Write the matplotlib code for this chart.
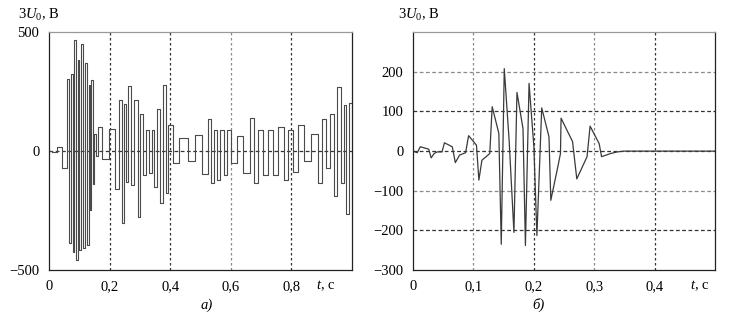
import numpy as np
import matplotlib
matplotlib.use("Agg")
import matplotlib.pyplot as plt

# а) 3U0 during the arcing fault, peaks of each half-wave
t_a = [0.000, 0.020, 0.033, 0.054, 0.065, 0.0695, 0.076, 0.0806, 0.087, 0.0916,
       0.098, 0.102, 0.111, 0.116, 0.1225, 0.127, 0.134, 0.138, 0.142, 0.146,
       0.153, 0.157, 0.166, 0.187, 0.211, 0.224, 0.236, 0.245, 0.251, 0.256,
       0.267, 0.275, 0.288, 0.297, 0.306, 0.314, 0.325, 0.334, 0.343, 0.350,
       0.361, 0.370, 0.383, 0.388, 0.400, 0.416, 0.444, 0.471, 0.493, 0.516,
       0.532, 0.539, 0.551, 0.559, 0.573, 0.582, 0.593, 0.607, 0.631, 0.653,
       0.672, 0.684, 0.698, 0.716, 0.733, 0.747, 0.767, 0.784, 0.797, 0.812,
       0.832, 0.853, 0.880, 0.894, 0.908, 0.919, 0.934, 0.947, 0.956, 0.969,
       0.978, 0.986, 0.997, 1.000]
u_a = [0, -3, 18, -73, 305, -388, 326, -423, 469, -458,
       382, -416, 449, -409, 372, -395, 277, -248, 300, -140,
       74, -20, 102, -35, 95, -161, 217, -304, 200, -129,
       273, -143, 217, -276, 158, -101, 88, -94, 88, -150,
       179, -218, 277, -176, 109, -50, 55, -40, 67, -97,
       137, -136, 88, -122, 88, -101, 88, -50, 63, -92,
       139, -134, 88, -101, 88, -101, 101, -122, 88, -87,
       109, -41, 74, -136, 133, -73, 158, -189, 270, -136,
       193, -265, 204, 204]

# б) 3U0 with the fault cleared
t_b = [0.000, 0.007, 0.012, 0.026, 0.030, 0.035, 0.040, 0.048, 0.052, 0.065,
       0.070, 0.077, 0.087, 0.092, 0.105, 0.109, 0.114, 0.127, 0.131, 0.142,
       0.146, 0.151, 0.159, 0.167, 0.172, 0.182, 0.186, 0.192, 0.200, 0.205,
       0.213, 0.225, 0.228, 0.239, 0.244, 0.245, 0.264, 0.271, 0.288, 0.293,
       0.308, 0.312, 0.327, 0.338, 0.349, 0.500]
u_b = [0, -4, 11, 5, -17, -6, -2, -2, 21, 11,
       -29, -10, -4, 39, 15, -73, -23, -6, 112, 45,
       -235, 208, 28, -205, 148, 57, -238, 171, 11, -213,
       109, 36, -124, -44, -6, 83, 24, -70, -14, 63,
       19, -14, -6, -2, 0, 0]

xticks_a = [0, 0.2, 0.4, 0.6, 0.8]
yticks_a = [-500, 0, 500]
xticks_b = [0, 0.1, 0.2, 0.3, 0.4]
yticks_b = [-300, -200, -100, 0, 100, 200]

plt.rcParams['font.family'] = ['Liberation Serif', 'DejaVu Serif']
plt.rcParams['mathtext.fontset'] = 'custom'
plt.rcParams['mathtext.rm'] = 'Liberation Serif'
plt.rcParams['mathtext.it'] = 'Liberation Serif:italic'
plt.rcParams['font.size'] = 10.5

DARK = '#333333'
LIGHT = '#8a8a8a'


def fmt(v):
    s = ('%g' % v).replace('.', ',')
    return s.replace('-', '\u2212')


def setup(ax, xt, yt, xlim, ylim, ylab_x, tlab_x):
    ax.set_xlim(*xlim)
    ax.set_ylim(*ylim)
    ax.set_xticks(xt)
    ax.set_xticklabels([fmt(v) for v in xt])
    ax.set_yticks(yt)
    ax.set_yticklabels([fmt(v) for v in yt])
    ax.tick_params(length=0, pad=7, labelsize=10.5)
    for s in ax.spines.values():
        s.set_linewidth(0.9)
        s.set_color('#222222')
    ax.spines['top'].set_color('#999999')
    ax.text(ylab_x, 1.072, '3$U_0$, В', transform=ax.transAxes, ha='left',
            va='center', fontsize=10.5)
    ax.text(tlab_x, -0.035, '$t$, с', transform=ax.transAxes, ha='center',
            va='top', fontsize=10.5)


fig = plt.figure(figsize=(7.37, 3.25), dpi=100)
ax1 = fig.add_axes([0.0665, 0.169, 0.411, 0.732])
ax2 = fig.add_axes([0.5604, 0.169, 0.41, 0.732])

setup(ax1, xticks_a, yticks_a, (0, 1.0), (-500, 500), -0.103, 0.915)
for x, c in zip(xticks_a[1:], [DARK, DARK, LIGHT, DARK]):
    ax1.axvline(x, color=c, lw=0.9, ls=(0, (2, 2)), zorder=1)
ax1.axhline(0, color=DARK, lw=0.9, ls=(0, (3, 2)), zorder=1)
ax1.plot(t_a, u_a, drawstyle='steps-mid', color='#4a4a4a', lw=0.8, zorder=2)

setup(ax2, xticks_b, yticks_b, (0, 0.5), (-300, 300), -0.05, 0.95)
for x, c in zip(xticks_b[1:], [LIGHT, DARK, LIGHT, DARK]):
    ax2.axvline(x, color=c, lw=0.9, ls=(0, (2, 2)), zorder=1)
for y, c in zip(yticks_b[1:], [DARK, LIGHT, DARK, DARK, LIGHT]):
    ax2.axhline(y, color=c, lw=0.9, ls=(0, (3, 2)), zorder=1)
ax2.plot(t_b, u_b, color='#3a3a3a', lw=0.9, zorder=2)

fig.text(0.281, 0.062, 'а)', style='italic', ha='center', va='center', fontsize=10.5)
fig.text(0.731, 0.062, 'б)', style='italic', ha='center', va='center', fontsize=10.5)

fig.savefig('out.png', dpi=100)
